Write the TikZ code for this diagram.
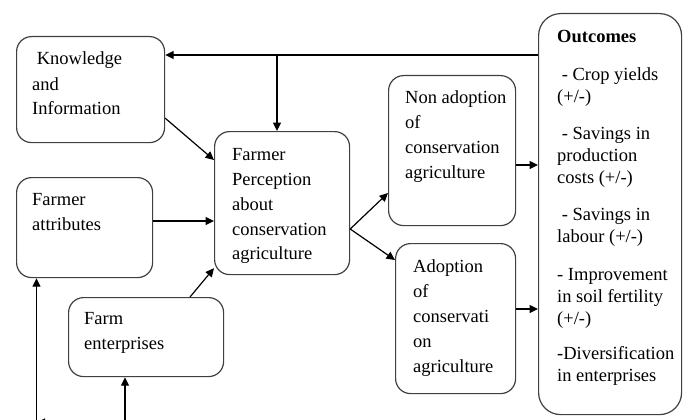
\documentclass[tikz,border=0pt]{standalone}
\usepackage{fontspec}
\setmainfont{Liberation Serif}
\usetikzlibrary{arrows.meta,calc}
\newcommand\boxlines[1]{\begin{tabular}[t]{@{}l@{}}#1\end{tabular}}
\begin{document}
\begin{tikzpicture}[x=1pt,y=-1pt,
  box/.style={draw=black!75,line width=1.2pt,rounded corners=15pt,anchor=north west,inner sep=0pt},
  txt/.style={anchor=base west,inner sep=0pt,font=\fontsize{18.5}{25}\selectfont},
  conn/.style={line width=1.2pt,-{Triangle[length=8.5pt,width=8pt]}},
  plain/.style={line width=1.2pt}]
\path[use as bounding box] (0,0) rectangle (683,420);
\clip (0,0) rectangle (683,420);
% boxes
\node[box,minimum width=148pt,minimum height=106pt] (kn) at (16,36) {};
\node[box,minimum width=136pt,minimum height=100pt] (fa) at (16,177) {};
\node[box,minimum width=155pt,minimum height=79pt] (fe) at (68,297) {};
\node[box,minimum width=135pt,minimum height=143pt] (fp) at (214,131) {};
\node[box,minimum width=127pt,minimum height=150pt] (na) at (388,75) {};
\node[box,minimum width=120pt,minimum height=150pt] (ad) at (395,243) {};
\node[box,rounded corners=22pt,minimum width=143pt,minimum height=401pt] (out) at (538,13) {};
% texts
\node[txt] (knt) at (32,65) {\boxlines{\ Knowledge\\and\\Information}};
\node[txt] (fat) at (32,205) {\boxlines{Farmer\\attributes}};
\node[txt] (fet) at (84,324) {\boxlines{Farm\\enterprises}};
\node[txt] (fpt) at (232,160) {\boxlines{Farmer\\Perception\\about\\conservation\\agriculture}};
\node[txt] (nat) at (405,103) {\boxlines{Non adoption\\of\\conservation\\agriculture}};
\node[txt] (adt) at (413,272) {\boxlines{Adoption\\of\\conservati\\on\\agriculture}};
\node[txt,font=\fontsize{18.5}{22}\selectfont] (outt) at (557,43) {\boxlines{\textbf{Outcomes}\\[16pt]
\ - Crop yields\\(+/-)\\[15pt]
\ - Savings in\\production\\costs (+/-)\\[15pt]
\ - Savings in\\labour (+/-)\\[16pt]
- Improvement\\in soil fertility\\(+/-)\\[13pt]
-Diversification\\in enterprises}};
% connectors
\coordinate (fb) at ($(out.north west)+(0,42)$);
\draw[conn] (fb) -- (fb -| kn.east);
\coordinate (br) at (fb -| 277,0);
\draw[conn] (br) -- (br |- fp.north);
\draw[conn] ($(kn.south east)+(0,-25)$) -- ($(fp.north west)+(0,29)$);
\coordinate (fae) at ($(fa.north east)+(0,44)$);
\draw[conn] (fae) -- (fae -| fp.west);
\draw[conn] ($(fe.north west)+(122,0)$) -- ($(fp.south west)+(0,-7)$);
\coordinate (split) at ($(fp.north east)+(0,98)$);
\draw[conn] (split) -- ($(na.north west)+(0,118)$);
\draw[conn] (split) -- ($(ad.north west)+(0,17)$);
\coordinate (nae) at ($(na.north east)+(0,90)$);
\draw[conn] (nae) -- (nae -| out.west);
\coordinate (ade) at ($(ad.north east)+(0,66)$);
\draw[conn] (ade) -- (ade -| out.west);
\coordinate (b1) at (36.5,422.5);
\coordinate (b2) at (125,422.5);
\draw[conn] (b1) -- (b1 |- fa.south);
\draw[conn] (b2) -- (b2 |- fe.south);
\draw[conn] (b2) -- (b1);
\end{tikzpicture}
\end{document}
